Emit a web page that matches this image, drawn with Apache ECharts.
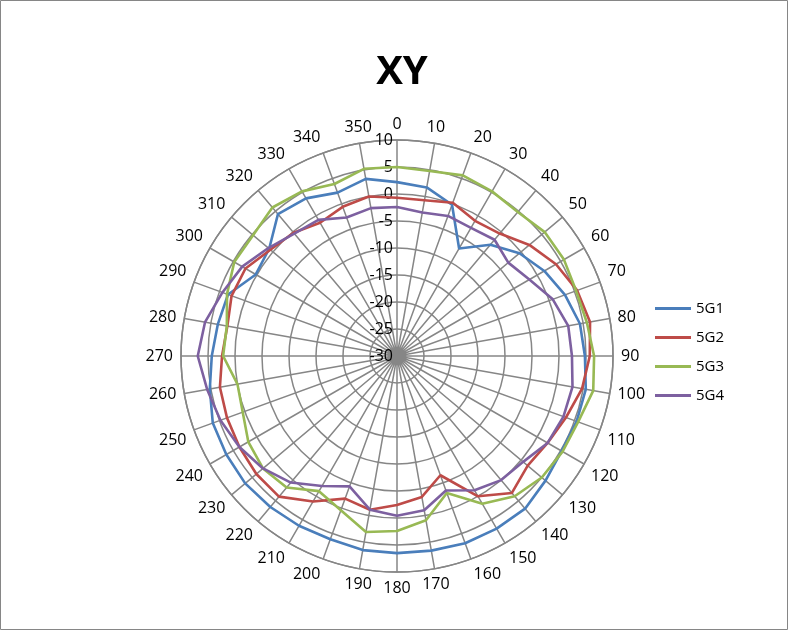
<!DOCTYPE html>
<html><head><meta charset="utf-8">
<script src="https://cdn.jsdelivr.net/npm/echarts@6/dist/echarts.min.js"></script>
<style>html,body{margin:0;padding:0;background:#fff}#c{width:788px;height:630px}</style>
</head><body><div id="c"></div>
<script>
const angles = [0,10,20,30,40,50,60,70,80,90,100,110,120,130,140,150,160,170,180,190,200,210,220,230,240,250,260,270,280,290,300,310,320,330,340,350];
const radialTicks = [-30,-25,-20,-15,-10,-5,0,5,10];
const g1 = [2.2,1.7,-0.2,-7,-3.1,-0.4,1.5,3.1,4.4,4.8,5.5,5.4,5.2,5.9,6.9,6.9,6.9,6.6,6.5,6.5,6.1,6.3,6.5,6.7,6.5,6.3,5.2,4.3,3.7,3.3,0.2,0.9,4.3,3.7,2.2,3.3];
const g2 = [-0.7,-0.7,0.2,-1.1,-0.4,2,4,5.5,6.3,5.7,4.8,3.3,2.2,1.6,3.1,0,-6.5,-3.5,-2.4,-1.1,-1.9,1.1,4,4,3.7,3.5,3.3,2.4,1.9,2.6,2.4,0.6,-0.2,-1.5,-0.6,0];
const g3 = [5,4.8,5.6,5.2,4.8,5.7,5.7,5.3,5.7,6.5,6.9,5.7,5.4,5,3.9,1.6,-3,0.9,2.4,3.1,0.4,-1.1,1.8,2.4,1.8,0.4,0,2.2,2,3.5,4.8,4.8,5.9,5.2,3.9,5.2];
const g4 = [-2.4,-3,-2.4,-2.6,-1.9,-3.1,-1.7,0.7,2.2,2.4,3,2.8,2.2,0.5,0,-1.3,-3.5,-1,-0.4,-1.1,-4.3,-2.2,0.6,2.4,3.7,4.8,5.7,6.9,6.1,4.4,3.1,1.1,-0.4,-0.9,-2.7,-2.2];
const names = ['5G1','5G2','5G3','5G4'];
const colors = ['#4A7EBB','#BE4B48','#98B954','#7D60A0'];
const font = 'Open Sans, Liberation Sans, sans-serif';
function pts(arr){ const p = arr.map((v,i)=>[v, angles[i]]); p.push([arr[0],360]); return p; }
const chart = echarts.init(document.getElementById('c'));
chart.setOption({
  animation:false,
  title:{text:'XY',left:397,top:48,textAlign:'center',textStyle:{fontSize:40,fontWeight:'bold',color:'#000',fontFamily:font}},
  legend:{orient:'vertical',left:650,top:296,itemGap:14,itemWidth:36,itemHeight:18,
    textStyle:{fontSize:15,color:'#000',fontFamily:font},data:names.map(n=>({name:n,icon:'path://M0,9L36,9L36,12L0,12Z'}))},
  polar:{center:[397,356],radius:216},
  angleAxis:{type:'value',min:0,max:360,interval:10,startAngle:90,clockwise:true,
    axisLine:{lineStyle:{color:'#868686',width:1.5}},axisTick:{show:false},
    axisLabel:{margin:8,fontSize:16,color:'#000',fontFamily:font,formatter:v=>v===360?'':String(v)},
    splitLine:{show:true,lineStyle:{color:'#868686',width:1.5}}},
  radiusAxis:{type:'value',min:-30,max:10,interval:5,
    axisLine:{show:false},axisTick:{show:false},
    axisLabel:{show:true,fontSize:16,color:'#000',fontFamily:font,margin:4,formatter:v=>radialTicks.includes(v)?String(v):''},
    splitLine:{show:true,lineStyle:{color:'#868686',width:1.5}}},
  graphic:[{type:'rect',shape:{x:0.5,y:0.5,width:787,height:629},style:{fill:'none',stroke:'#868686',lineWidth:1}}],
  series:[g1,g2,g3,g4].map((d,i)=>({name:names[i],type:'line',coordinateSystem:'polar',data:pts(d),
    showSymbol:false,symbol:'none',lineStyle:{width:2.6,color:colors[i]},itemStyle:{color:colors[i]}}))
});
</script></body></html>
